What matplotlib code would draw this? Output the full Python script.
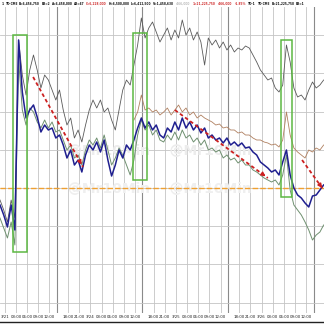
import matplotlib
matplotlib.use("Agg")
import matplotlib.pyplot as plt
from matplotlib.patches import Rectangle
from matplotlib.lines import Line2D

# ------------------------------------------------------------------------------
# hourly readings, x = hours since start of chart

blue = [205, 215, 227, 205, 230, 40, 92, 118, 110, 105, 117, 132, 125, 130, 128, 138,
        135, 145, 158, 150, 165, 160, 172, 155, 145, 150, 142, 152, 140, 160, 176, 165,
        150, 158, 145, 150, 140, 128, 118, 128, 122, 130, 125, 135, 138, 128, 132, 122,
        130, 118, 128, 122, 130, 125, 133, 128, 138, 135, 140, 138, 143, 138, 145, 142,
        146, 143, 148, 147, 152, 155, 162, 165, 168, 172, 170, 175, 162, 150, 175, 188,
        195, 198, 203, 207, 196, 195, 190, 185]

green = [218, 228, 238, 222, 245, 60, 110, 125, 108, 112, 122, 128, 120, 128, 122, 132,
         130, 140, 150, 145, 158, 155, 165, 150, 140, 145, 138, 148, 135, 150, 165, 158,
         148, 155, 165, 175, 160, 135, 120, 130, 125, 135, 130, 140, 142, 135, 140, 132,
         140, 130, 138, 135, 142, 138, 145, 140, 150, 148, 152, 150, 158, 155, 160, 158,
         163, 160, 165, 165, 170, 172, 175, 178, 180, 182, 180, 185, 175, 155, 190, 205,
         210, 215, 222, 230, 240, 235, 232, 225]

gray = [200, 210, 222, 200, 218, 40, 75, 95, 70, 55, 70, 88, 75, 80, 90, 100,
        90, 110, 125, 118, 138, 130, 142, 125, 110, 100, 108, 100, 112, 108, 120, 130,
        110, 90, 80, 85, 65, 45, 18, 38, 28, 22, 32, 42, 35, 28, 40, 30,
        38, 20, 35, 28, 40, 32, 42, 65, 38, 45, 40, 48, 42, 50, 45, 52,
        48, 50, 46, 48, 55, 62, 70, 75, 80, 78, 88, 92, 85, 45, 62, 88,
        97, 95, 100, 90, 82, 88, 85, 80]

brown_start = 36
brown = [120, 112, 95, 110, 108, 112, 110, 115, 112, 108, 115, 110, 105, 112, 108, 115,
         112, 118, 115, 118, 120, 122, 125, 124, 128, 127, 130, 130, 133, 132, 135, 135,
         138, 140, 140, 142, 143, 145, 144, 147, 140, 112, 135, 148, 152, 155, 158, 150,
         152, 148, 150, 145]

# values above are read as pixel rows from the top; flip to levels
TOP = 313
def lev(v):
  return [TOP - p for p in v]

sessions = [15.3, 38.3, 61.3, 84.3]
first_day = ["3/21", "03:00", "06:00", "09:00", "12:00"]
day_labels = [["18:00", "21:00", "3/24", "03:00", "06:00", "09:00", "12:00"],
              ["18:00", "21:00", "3/25", "03:00", "06:00", "09:00", "12:00"],
              ["18:00", "21:00", "3/26", "03:00", "06:00", "09:00", "12:00"]]
hgrid = [10, 49, 87, 125, 163, 201, 240, 278]
zero_level = 125

# (x from, x to, top row, bottom row)
boxes = [(3.5, 7.3, 35, 252), (35.8, 39.5, 33, 180), (75.5, 78.5, 40, 197)]
arrows = [((8.9, 236), (22.3, 146)), ((47.0, 203), (72.0, 135)), ((81.2, 153), (86.6, 125))]

header = [("1", "#111111"), ("TO-CME", "#111111"), ("B=6,456,750", "#111111"),
          ("B3=2", "#111111"), ("A=6,458,000", "#111111"), ("A3=47", "#111111"),
          ("C=6,228,000", "#d03030"), ("H=6,500,000", "#111111"),
          ("L=6,412,500", "#111111"), ("V=1,458,630", "#111111"),
          ("-466,000", "#bbbbbb"), ("1=21,225,750", "#d03030"), ("-466,000", "#d03030"),
          ("-1.85%", "#d03030"), ("TO-1", "#111111"), ("TO-CME", "#111111"),
          ("B=21,225,750", "#111111"), ("B3=1", "#111111")]

# ------------------------------------------------------------------------------

fig = plt.figure(figsize=(3.24, 3.24), dpi=100)
ax = fig.add_axes([0, 11/324, 1, 1 - 18/324])
ax.set_xlim(0, 324/3.72)
ax.set_ylim(0, 306)

# grid
xt, xl = [], []
for k, lab in enumerate(first_day):
  xt.append(sessions[0] - 2 - 3*(4-k))
  xl.append(lab)
for d in range(3):
  for k, lab in enumerate(day_labels[d]):
    xt.append(sessions[d] + 3*(k+1))
    xl.append(lab)
for x in xt:
  ax.axvline(x, color="#c4c4c4", lw=0.6, zorder=0)
for x in sessions:
  ax.axvline(x, color="#8a8a8a", lw=0.8, zorder=0)
for y in hgrid:
  ax.axhline(y, color="#c4c4c4", lw=0.6, zorder=0)

ax.set_xticks(xt)
ax.set_xticklabels(xl, fontsize=2.8, color="#222222")
ax.tick_params(axis="x", length=0, pad=1.5)
ax.set_yticks([])
for s in ax.spines.values():
  s.set_visible(False)

# faint watermark
ax.text(43, 162, "@Mr10Min    @Mr10Min", fontsize=10, color="#ececec",
        ha="center", va="center", fontweight="bold", zorder=1)
ax.text(43, 124, "@Mr10Min    @Mr10Min", fontsize=10, color="#efefef",
        ha="center", va="center", fontweight="bold", zorder=1)

ax.axhline(zero_level, color="#f0a030", lw=1.0, ls=(0, (4, 1.5)), zorder=2)

hours = list(range(len(blue)))
ax.plot(hours, lev(gray), color="#5a5a5a", lw=0.6, zorder=3)
ax.plot(list(range(brown_start, brown_start + len(brown))), lev(brown),
        color="#b08060", lw=0.6, zorder=3)
ax.plot(hours, lev(green), color="#6f9070", lw=0.7, zorder=3)
ax.plot(hours, lev(blue), color="#1f1f8f", lw=1.1, zorder=4)

for x0, x1, r0, r1 in boxes:
  ax.add_patch(Rectangle((x0, TOP - r1), x1 - x0, r1 - r0, fill=False,
                         edgecolor="#5cb842", lw=1.1, zorder=5))

for (xa, ya), (xb, yb) in arrows:
  ax.plot([xa, xb], [ya, yb], color="#cc2020", lw=1.3, ls=(0, (2, 1.5)), zorder=6)
  ax.annotate("", xy=(xb, yb), xytext=(xb - (xb-xa)*0.08, yb - (yb-ya)*0.08),
              arrowprops=dict(arrowstyle="-|>", color="#cc2020", lw=1.0,
                              mutation_scale=6), zorder=6)

# header line
x = 0.004
for t, col in header:
  fig.text(x, 0.993, t, fontsize=2.1, color=col, ha="left", va="top", fontweight="bold")
  x += 0.0056 * len(t) + 0.008

fig.add_artist(Line2D([0, 1], [2.5/324, 2.5/324], color="#222222", lw=1.0))

fig.savefig("out.png", dpi=100)
